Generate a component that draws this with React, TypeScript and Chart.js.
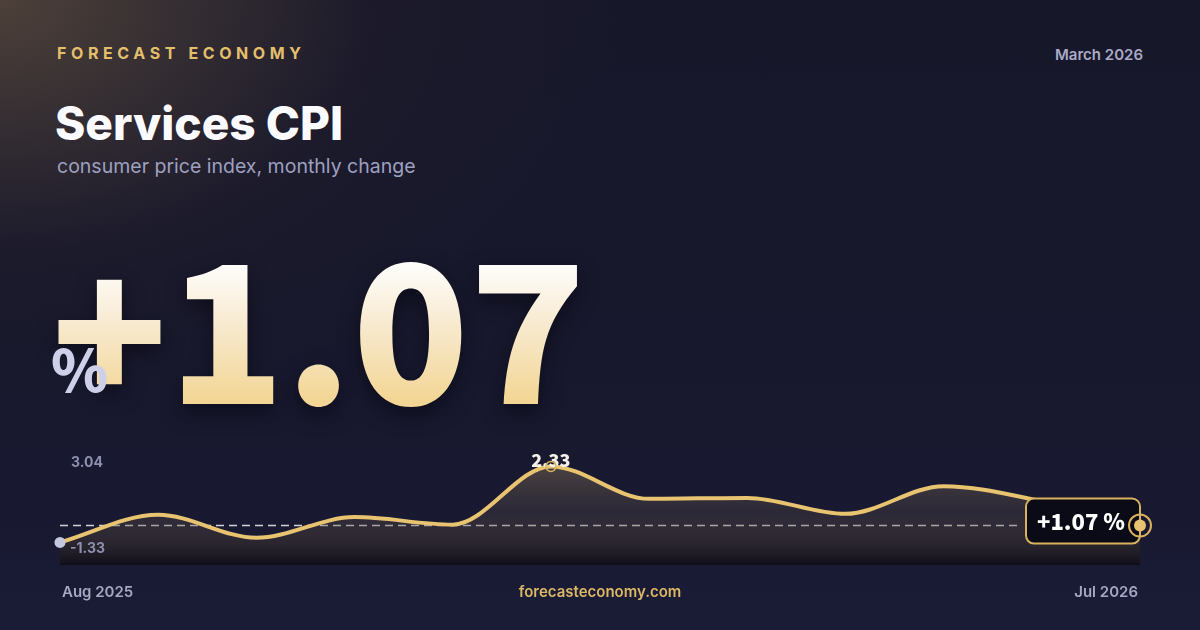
import React, { useEffect, useRef } from "react";
import { Chart, registerables } from "chart.js";

Chart.register(...registerables);

const months = [
  "Aug 2025", "Sep 2025", "Oct 2025", "Nov 2025", "Dec 2025", "Jan 2026",
  "Feb 2026", "Mar 2026", "Apr 2026", "May 2026", "Jun 2026", "Jul 2026",
];
const cpiChange = [0.71, 1.30, 0.81, 1.25, 1.09, 2.33, 1.64, 1.66, 1.32, 1.91, 1.59, 1.07];
const rangeLabels = ["3.04", "-1.33"];

const GOLD = "#e8c370";
const inter = "Inter, 'Noto Sans', sans-serif";
const heavy = "'Noto Sans CJK SC', 'DejaVu Sans', sans-serif";

// dashed line at the latest value, peak tag, start dot and the end badge
const markers = {
  id: "markers",
  beforeDatasetsDraw(chart: any) {
    const { ctx, chartArea } = chart;
    const ys = chart.scales.y;
    const last = cpiChange[cpiChange.length - 1];
    const y = ys.getPixelForValue(last);
    ctx.save();
    ctx.strokeStyle = "rgba(255,255,255,0.8)";
    ctx.lineWidth = 1.5;
    ctx.setLineDash([8, 5]);
    ctx.beginPath();
    ctx.moveTo(chartArea.left, y);
    ctx.lineTo(chartArea.right - 120, y);
    ctx.stroke();
    ctx.restore();
  },
  afterDatasetsDraw(chart: any) {
    const { ctx } = chart;
    const pts = chart.getDatasetMeta(0).data;
    ctx.save();

    // start dot
    const p0 = pts[0];
    ctx.fillStyle = "#c4c7df";
    ctx.beginPath();
    ctx.arc(p0.x, p0.y, 5.5, 0, Math.PI * 2);
    ctx.fill();

    // peak
    let iMax = 0;
    cpiChange.forEach((v, i) => { if (v > cpiChange[iMax]) iMax = i; });
    const pm = pts[iMax];
    ctx.font = `900 18px ${heavy}`;
    ctx.fillStyle = "#f4f1ea";
    ctx.textAlign = "center";
    ctx.textBaseline = "alphabetic";
    ctx.fillText(cpiChange[iMax].toFixed(2), pm.x, pm.y + 1);
    ctx.strokeStyle = "#d9b25e";
    ctx.lineWidth = 1.5;
    ctx.beginPath();
    ctx.arc(pm.x, pm.y, 5, 0, Math.PI * 2);
    ctx.stroke();

    // end badge
    const pl = pts[pts.length - 1];
    const last = cpiChange[cpiChange.length - 1];
    const bw = 114, bh = 45, r = 8;
    const bx = pl.x - bw, by = pl.y - 27;
    ctx.beginPath();
    ctx.roundRect(bx, by, bw, bh, r);
    ctx.fillStyle = "#0b0b17";
    ctx.fill();
    ctx.strokeStyle = "#d9b25e";
    ctx.lineWidth = 2;
    ctx.stroke();
    ctx.font = `900 22px ${heavy}`;
    ctx.fillStyle = "#ffffff";
    ctx.textAlign = "center";
    ctx.textBaseline = "middle";
    ctx.fillText(`${last >= 0 ? "+" : ""}${last.toFixed(2)} %`, bx + bw / 2 - 2, by + bh / 2 + 1);

    ctx.strokeStyle = "#d9b25e";
    ctx.lineWidth = 2;
    ctx.beginPath();
    ctx.arc(pl.x, pl.y, 11, 0, Math.PI * 2);
    ctx.stroke();
    ctx.fillStyle = GOLD;
    ctx.beginPath();
    ctx.arc(pl.x, pl.y, 6, 0, Math.PI * 2);
    ctx.fill();
    ctx.restore();
  },
};

function TrendChart() {
  const canvasRef = useRef<HTMLCanvasElement>(null);

  useEffect(() => {
    if (!canvasRef.current) return;
    const ctx = canvasRef.current.getContext("2d");
    if (!ctx) return;

    const chart = new Chart(ctx, {
      type: "line",
      data: {
        labels: months,
        datasets: [
          {
            data: cpiChange,
            borderColor: GOLD,
            borderWidth: 4,
            pointRadius: 0,
            cubicInterpolationMode: "monotone",
            fill: "start",
            clip: false,
            backgroundColor: (c: any) => {
              const area = c.chart.chartArea;
              if (!area) return "rgba(0,0,0,0)";
              const g = c.chart.ctx.createLinearGradient(0, area.top, 0, area.bottom);
              g.addColorStop(0, "rgba(215,180,115,0.34)");
              g.addColorStop(0.55, "rgba(120,100,80,0.2)");
              g.addColorStop(1, "rgba(12,10,16,0.75)");
              return g;
            },
          },
        ],
      },
      options: {
        animation: false,
        responsive: true,
        maintainAspectRatio: false,
        layout: { padding: { left: 20, right: 30, top: 10, bottom: 10 } },
        plugins: { legend: { display: false }, tooltip: { enabled: false } },
        scales: {
          x: { display: false },
          y: { display: false, min: 0.23, max: 2.68 },
        },
      },
      plugins: [markers],
    });

    return () => chart.destroy();
  }, []);

  return <canvas ref={canvasRef} />;
}

export default function App() {
  const last = cpiChange[cpiChange.length - 1];
  const text = (extra: React.CSSProperties): React.CSSProperties => ({
    position: "absolute",
    margin: 0,
    whiteSpace: "nowrap",
    ...extra,
  });

  return (
    <div
      style={{
        position: "fixed",
        left: 0,
        top: 0,
        width: 1200,
        height: 630,
        overflow: "hidden",
        fontFamily: inter,
        background:
          "radial-gradient(ellipse 620px 420px at 0% 0%, rgba(95,78,62,0.75), rgba(40,34,44,0.3) 60%, rgba(0,0,0,0) 100%), linear-gradient(180deg, #17172a 0%, #17182d 60%, #1a1b35 100%)",
      }}
    >
      <div style={text({ left: 57, top: 45, fontSize: 16, lineHeight: "16px", fontWeight: 700, letterSpacing: "4.6px", color: "#e3bf6c" })}>
        FORECAST ECONOMY
      </div>
      <div style={text({ right: 57, top: 47, fontSize: 15, lineHeight: "15px", fontWeight: 600, color: "#a9abc6" })}>
        March 2026
      </div>
      <div style={text({ left: 55, top: 100, fontSize: 46, lineHeight: "46px", fontWeight: 800, color: "#fafaff" })}>
        Services CPI
      </div>
      <div style={text({ left: 57, top: 157, fontSize: 19.5, lineHeight: "19.5px", fontWeight: 400, color: "#9ea0c0" })}>
        consumer price index, monthly change
      </div>

      <div
        style={text({
          left: 51,
          top: 224,
          fontFamily: heavy,
          fontWeight: 900,
          fontSize: 192,
          lineHeight: "192px",
          color: "transparent",
          backgroundImage: "linear-gradient(180deg, #ffffff 18%, #f8ead0 52%, #f3d695 92%)",
          WebkitBackgroundClip: "text",
          backgroundClip: "text",
          filter: "drop-shadow(0 8px 10px rgba(5,5,15,0.6))",
        })}
      >
        {`${last >= 0 ? "+" : ""}${last.toFixed(2)}`}
      </div>
      <div style={text({ left: 51, top: 338, fontFamily: heavy, fontWeight: 800, fontSize: 58, lineHeight: "58px", color: "#cdd0e8" })}>
        %
      </div>

      <div style={{ position: "absolute", left: 40, top: 440, width: 1130, height: 135 }}>
        <TrendChart />
      </div>
      <div style={text({ left: 71, top: 455, fontSize: 14, lineHeight: "14px", fontWeight: 700, color: "#8d8fae" })}>
        {rangeLabels[0]}
      </div>
      <div style={text({ left: 70, top: 541, fontSize: 14, lineHeight: "14px", fontWeight: 700, color: "#8d8fae" })}>
        {rangeLabels[1]}
      </div>

      <div style={text({ left: 62, top: 584, fontSize: 15, lineHeight: "15px", fontWeight: 600, color: "#a5a8c4" })}>
        {months[0]}
      </div>
      <div style={text({ left: 0, width: 1200, textAlign: "center", top: 584, fontSize: 15, lineHeight: "15px", fontWeight: 600, color: "#dcb866" })}>
        forecasteconomy.com
      </div>
      <div style={text({ right: 62, top: 584, fontSize: 15, lineHeight: "15px", fontWeight: 600, color: "#a5a8c4" })}>
        {months[months.length - 1]}
      </div>
    </div>
  );
}
